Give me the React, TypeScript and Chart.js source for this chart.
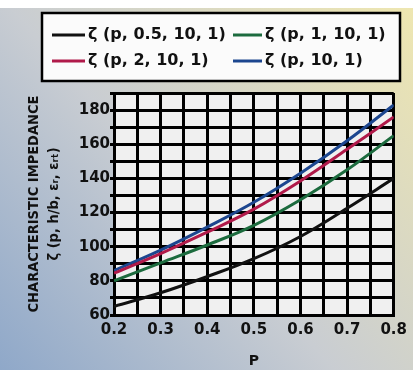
import React, { useEffect, useRef } from "react";
import { Chart, registerables } from "chart.js";

Chart.register(...registerables);

const pValues = [0.2, 0.3, 0.4, 0.5, 0.6, 0.7, 0.8];
const zetaHalf = [65, 73, 82.5, 93, 106, 122.5, 140];
const zetaOne = [80, 90.5, 101, 112.5, 127.5, 145, 165];
const zetaTwo = [84.5, 96, 108.5, 122, 138.5, 157, 176];
const zetaTen = [86, 98, 111.5, 126, 143, 162, 183];

const seriesLabels = [
  "ζ (p, 0.5, 10, 1)",
  "ζ (p, 1, 10, 1)",
  "ζ (p, 2, 10, 1)",
  "ζ (p, 10, 1)",
];
const seriesColors = ["#111111", "#1c6b3e", "#b01a4a", "#1c468f"];
const seriesValues = [zetaHalf, zetaOne, zetaTwo, zetaTen];

const yTitle = ["CHARACTERISTIC IMPEDANCE", "ζ (p, h/b, εᵣ, εᵣₜ)"];
const xTitle = "P";

const backgroundPlugin = {
  id: "bgPlugin",
  beforeDraw(chart: any) {
    const { ctx, width, height, chartArea } = chart;
    ctx.save();
    const g = ctx.createLinearGradient(0, height, width, 0);
    g.addColorStop(0, "#8fa8c9");
    g.addColorStop(0.45, "#c9cdd2");
    g.addColorStop(1, "#efe7b0");
    ctx.fillStyle = g;
    ctx.fillRect(0, 0, width, height);
    ctx.fillStyle = "#ffffff";
    ctx.fillRect(0, 0, width, 8);
    ctx.fillStyle = "#f0f0f0";
    ctx.fillRect(
      chartArea.left,
      chartArea.top,
      chartArea.right - chartArea.left,
      chartArea.bottom - chartArea.top
    );
    ctx.restore();
  },
};

const legendBoxPlugin = {
  id: "legendBox",
  afterDraw(chart: any) {
    const { ctx } = chart;
    ctx.save();
    ctx.fillStyle = "#fbfbfb";
    ctx.fillRect(42, 13, 358, 68);
    ctx.strokeStyle = "#000";
    ctx.lineWidth = 2.5;
    ctx.strokeRect(42, 13, 358, 68);
    const lineStart = [52, 233];
    const lineEnd = [85, 262];
    const textX = [88, 265];
    const rowY = [35, 61];
    ctx.font = "bold 16px 'DejaVu Sans'";
    ctx.textBaseline = "middle";
    ctx.textAlign = "left";
    chart.data.datasets.forEach((ds: any, i: number) => {
      const col = i % 2;
      const row = Math.floor(i / 2);
      ctx.strokeStyle = ds.borderColor;
      ctx.lineWidth = 3;
      ctx.beginPath();
      ctx.moveTo(lineStart[col], rowY[row]);
      ctx.lineTo(lineEnd[col], rowY[row]);
      ctx.stroke();
      ctx.fillStyle = "#111";
      ctx.fillText(ds.label, textX[col], rowY[row]);
    });
    ctx.restore();
  },
};

export default function App() {
  const canvasRef = useRef<HTMLCanvasElement | null>(null);

  useEffect(() => {
    if (!canvasRef.current) return;
    const datasets = seriesValues.map((vals, i) => ({
      label: seriesLabels[i],
      data: vals.map((v, j) => ({ x: pValues[j], y: v })),
      borderColor: seriesColors[i],
      backgroundColor: seriesColors[i],
      borderWidth: 3,
      pointRadius: 0,
      tension: 0.4,
    }));
    const chart = new Chart(canvasRef.current, {
      type: "line",
      data: { datasets },
      plugins: [backgroundPlugin, legendBoxPlugin],
      options: {
        animation: false,
        responsive: true,
        maintainAspectRatio: false,
        layout: { padding: { left: 0, right: 15, top: 93, bottom: 0 } },
        plugins: {
          legend: { display: false },
          tooltip: { enabled: false },
        },
        scales: {
          x: {
            type: "linear",
            min: 0.2,
            max: 0.8,
            afterFit(scale: any) {
              scale.height = 55;
            },
            ticks: {
              stepSize: 0.05,
              autoSkip: false,
              maxRotation: 0,
              padding: 6,
              color: "#111",
              font: { family: "'DejaVu Sans'", weight: "bold", size: 15 },
              callback(v: any) {
                const r = Math.round(Number(v) * 100);
                return r % 10 === 0 ? (r / 100).toFixed(1) : "";
              },
            },
            grid: { color: "#000", lineWidth: 3, drawTicks: false },
            border: { color: "#000", width: 3 },
            title: {
              display: true,
              text: xTitle,
              color: "#111",
              font: { family: "'DejaVu Sans'", weight: "bold", size: 14 },
              padding: { top: 0, bottom: 0 },
            },
          },
          y: {
            type: "linear",
            min: 60,
            max: 190,
            afterFit(scale: any) {
              scale.width = 114;
            },
            ticks: {
              stepSize: 10,
              autoSkip: false,
              padding: 0,
              color: "#111",
              font: { family: "'DejaVu Sans'", weight: "bold", size: 15 },
              callback(v: any) {
                const n = Number(v);
                return n % 20 === 0 && n <= 180 ? String(n) : "";
              },
            },
            grid: { color: "#000", lineWidth: 3, tickLength: 4 },
            border: { color: "#000", width: 3 },
            title: {
              display: true,
              text: yTitle,
              color: "#111",
              font: {
                family: "'DejaVu Sans Condensed', 'Liberation Sans Narrow', 'DejaVu Sans'",
                weight: "bold",
                size: 14.5,
                lineHeight: 1.4,
              },
              padding: { top: 24, bottom: 0 },
            },
          },
        },
      },
    });
    return () => chart.destroy();
  }, []);

  return (
    <div style={{ position: "fixed", left: 0, top: 0, width: 413, height: 370 }}>
      <canvas ref={canvasRef} />
    </div>
  );
}
